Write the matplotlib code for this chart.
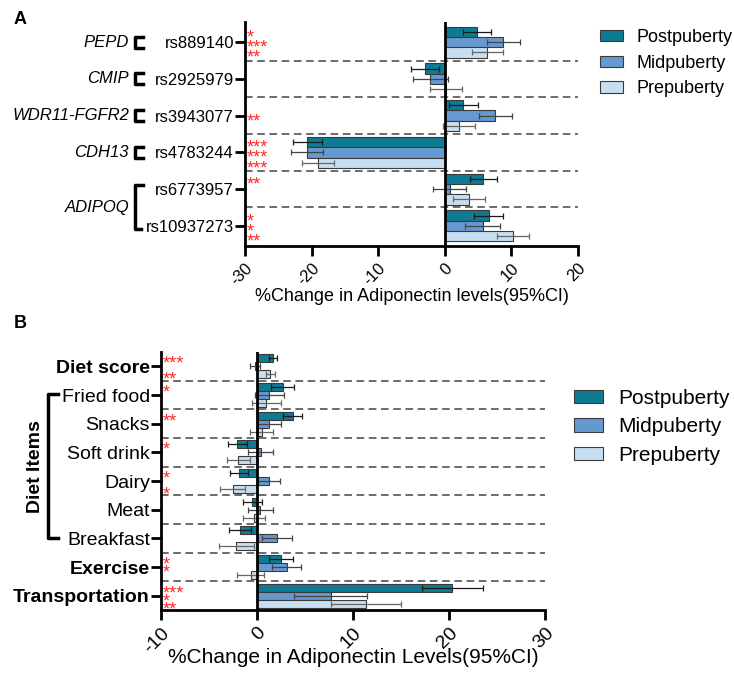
import numpy as np
import matplotlib
matplotlib.use("Agg")
import matplotlib.pyplot as plt
import matplotlib.transforms as mtrans
from matplotlib.patches import Patch
from matplotlib.lines import Line2D

plt.rcParams["font.family"] = ["Liberation Sans", "DejaVu Sans"]

STAGES = ["Postpuberty", "Midpuberty", "Prepuberty"]
COLORS = ["#0e7b93", "#6699d0", "#c8dff2"]
ERRCOLORS = ["#1a1a1a", "#444444", "#666666"]
STARCOLOR = "#ff2a2a"

# ---- panel A data ----
snps = ["rs889140", "rs2925979", "rs3943077", "rs4783244", "rs6773957", "rs10937273"]
a_post = [4.8, -3.0, 2.8, -20.75, 5.8, 6.6]
a_post_lo = [2.8, -5.1, 0.7, -22.85, 3.75, 4.4]
a_post_hi = [7.0, -0.85, 5.0, -18.5, 7.9, 8.8]
a_mid = [8.75, -2.2, 7.55, -20.75, 0.75, 5.75]
a_mid_lo = [6.3, -4.7, 5.15, -23.15, -1.75, 3.1]
a_mid_hi = [11.3, 0.5, 10.15, -18.25, 3.25, 8.3]
a_pre = [6.4, 0.2, 2.15, -19.0, 3.65, 10.25]
a_pre_lo = [4.15, -2.2, -0.2, -21.45, 1.25, 7.8]
a_pre_hi = [8.8, 2.55, 4.55, -16.65, 6.05, 12.6]
a_stars = [["*", "***", "**"], ["", "", ""], ["", "**", ""],
           ["***", "***", "***"], ["**", "", ""], ["*", "*", "**"]]
genes = ["PEPD", "CMIP", "WDR11-FGFR2", "CDH13"]

# ---- panel B data ----
items = ["Diet score", "Fried food", "Snacks", "Soft drink", "Dairy", "Meat",
         "Breakfast", "Exercise", "Transportation"]
bold_items = ["Diet score", "Exercise", "Transportation"]
b_post = [1.65, 2.7, 3.7, -2.08, -1.9, -0.48, -1.8, 2.5, 20.3]
b_post_lo = [1.3, 1.5, 2.7, -3.05, -2.85, -1.5, -2.9, 1.25, 17.2]
b_post_hi = [2.07, 3.9, 4.7, -1.05, -0.95, 0.5, -0.6, 3.7, 23.5]
b_mid = [-0.2, 1.25, 1.25, 0.38, 1.25, 0.35, 2.07, 3.1, 7.7]
b_mid_lo = [-0.7, -0.2, 0.05, -0.93, 0.1, -0.93, 0.55, 1.55, 3.86]
b_mid_hi = [0.35, 2.8, 2.5, 1.65, 2.35, 1.65, 3.6, 4.6, 11.5]
b_pre = [1.35, 0.95, 0.5, -2.0, -2.5, -0.28, -2.2, -0.62, 11.4]
b_pre_lo = [0.9, -0.5, -0.7, -3.1, -3.9, -1.5, -4.0, -2.1, 7.76]
b_pre_hi = [1.86, 2.5, 1.65, -0.75, -1.2, 0.86, -0.3, 0.76, 15.0]
b_stars = [["***", "", "**"], ["*", "", ""], ["**", "", ""], ["*", "", ""],
           ["*", "", "*"], ["", "", ""], ["", "", ""], ["*", "*", ""],
           ["***", "*", "**"]]

fig = plt.figure(figsize=(7.34, 6.74), dpi=100)
W, H = 734.0, 674.0
STAR_FS = 13


def draw_panel(ax, vals, los, his, stars, xlim):
    n = len(vals[0])
    y = np.arange(n)
    bh = 0.28
    for k in range(3):
        yy = y + (k - 1) * bh
        v = np.array(vals[k])
        err = np.vstack([v - np.array(los[k]), np.array(his[k]) - v])
        ax.barh(yy, v, height=bh, color=COLORS[k], edgecolor="#3a3a3a",
                linewidth=0.8, zorder=2)
        ax.errorbar(v, yy, xerr=err, fmt="none", ecolor=ERRCOLORS[k],
                    elinewidth=0.9, capsize=2, capthick=0.9, zorder=3)
        for i in range(n):
            if stars[i][k]:
                # asterisk glyph sits high, so drop the baseline below bar centre
                ax.annotate(stars[i][k], (xlim[0], yy[i]), xytext=(1.5, -0.58 * STAR_FS),
                            textcoords="offset points", color=STARCOLOR,
                            fontsize=STAR_FS, ha="left", va="baseline", zorder=4)
    for i in range(n - 1):
        ax.axhline(i + 0.5, color="#444444", linestyle=(0, (5, 3)),
                   linewidth=1.1, zorder=1)
    ax.axvline(0, color="black", linewidth=2, zorder=5)
    ax.set_xlim(*xlim)
    for s in ["top", "right"]:
        ax.spines[s].set_visible(False)
    for s in ["left", "bottom"]:
        ax.spines[s].set_linewidth(2)
    ax.tick_params(axis="both", width=2, length=7)
    ax.tick_params(axis="y", pad=1)
    ax.set_yticks(y)


# ---------- Panel A ----------
axA = fig.add_axes([245 / W, 1 - 246 / H, (578 - 245) / W, (246 - 22) / H])
draw_panel(axA, [a_post, a_mid, a_pre], [a_post_lo, a_mid_lo, a_pre_lo],
           [a_post_hi, a_mid_hi, a_pre_hi], a_stars, (-30, 20))
axA.set_ylim(5.55, -0.55)
axA.set_yticklabels(snps, fontsize=12)
axA.set_xticks([-30, -20, -10, 0, 10, 20])
axA.set_xticklabels(["-30", "-20", "-10", "0", "10", "20"], fontsize=12,
                    rotation=45, ha="right", va="top", rotation_mode="anchor")
axA.set_xlabel("%Change in Adiponectin levels(95%CI)", fontsize=13)
axA.xaxis.set_label_coords(0.5, (246 - 288) / 224.0)

trA = mtrans.blended_transform_factory(fig.transFigure, axA.transData)
for i, g in enumerate(genes):
    fig.text(129 / W, i, g, fontsize=12, style="italic", ha="right",
             va="center", transform=trA)
    xs = [143 / W, 135 / W, 135 / W, 143 / W]
    ys = [i - 0.15, i - 0.15, i + 0.15, i + 0.15]
    fig.add_artist(Line2D(xs, ys, transform=trA, color="black", linewidth=2.5))
fig.text(129 / W, 4.5, "ADIPOQ", fontsize=12, style="italic", ha="right",
         va="center", transform=trA)
fig.add_artist(Line2D([143 / W, 135 / W, 135 / W, 141 / W], [3.88, 3.88, 5.08, 5.08],
                      transform=trA, color="black", linewidth=2.5))

fig.text(14 / W, 1 - 20 / H, "A", fontsize=13, fontweight="bold", ha="left", va="center")

fig.legend(handles=[Patch(facecolor=c, edgecolor="#3a3a3a", linewidth=0.8)
                    for c in COLORS], labels=STAGES,
           loc="upper left", bbox_to_anchor=(600 / W, 1 - 29 / H), frameon=False,
           fontsize=13, handlelength=1.3, handleheight=0.6, labelspacing=0.48,
           handletextpad=0.7, borderaxespad=0, borderpad=0)

# ---------- Panel B ----------
axB = fig.add_axes([161 / W, 1 - 610 / H, (545 - 161) / W, (610 - 352) / H])
draw_panel(axB, [b_post, b_mid, b_pre], [b_post_lo, b_mid_lo, b_pre_lo],
           [b_post_hi, b_mid_hi, b_pre_hi], b_stars, (-10, 30))
axB.set_ylim(8.5, -0.5)
axB.set_yticklabels(items, fontsize=14)
for lab in axB.get_yticklabels():
    if lab.get_text() in bold_items:
        lab.set_fontweight("bold")
axB.set_xticks([-10, 0, 10, 20, 30])
axB.set_xticklabels(["-10", "0", "10", "20", "30"], fontsize=14,
                    rotation=45, ha="right", va="top", rotation_mode="anchor")
axB.set_xlabel("%Change in Adiponectin Levels(95%CI)", fontsize=15)
axB.xaxis.set_label_coords(0.5, (610 - 648) / 258.0)

trB = mtrans.blended_transform_factory(fig.transFigure, axB.transData)
fig.add_artist(Line2D([58 / W, 48 / W, 48 / W, 58 / W], [0.95, 0.95, 6.0, 6.0],
                      transform=trB, color="black", linewidth=2.5))
fig.text(35 / W, 3.5, "Diet Items", fontsize=14, fontweight="bold", rotation=90,
         ha="center", va="center", transform=trB)

fig.text(14 / W, 1 - 323 / H, "B", fontsize=13, fontweight="bold", ha="left", va="center")

fig.legend(handles=[Patch(facecolor=c, edgecolor="#3a3a3a", linewidth=0.8)
                    for c in COLORS], labels=STAGES,
           loc="upper left", bbox_to_anchor=(574 / W, 1 - 389 / H), frameon=False,
           fontsize=15, handlelength=1.4, handleheight=0.6, labelspacing=0.45,
           handletextpad=0.7, borderaxespad=0, borderpad=0)

fig.savefig("out.png", dpi=100)
